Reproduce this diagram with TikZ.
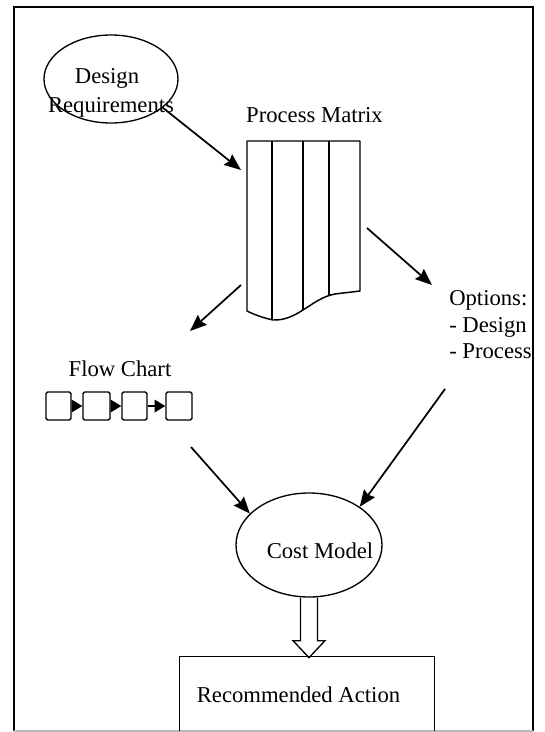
\documentclass[tikz,border=0pt]{standalone}
\usepackage{fontspec}
\setmainfont{Liberation Serif}
\usetikzlibrary{arrows.meta,calc,shapes.geometric}

\tikzset{
  lbl/.style={inner sep=0pt, anchor=base, font=\fontsize{17pt}{20pt}\selectfont},
  lbll/.style={lbl, anchor=base west},
  oval/.style={ellipse, draw, line width=1pt, inner sep=0pt},
  conn/.style={line width=1.3pt, -{Stealth[length=12.5pt,width=10pt,inset=1.5pt]}},
  fbox/.style={draw, line width=1.1pt, rounded corners=1.2pt, inner sep=0pt,
               minimum height=21pt},
  flink/.style={line width=1pt, -{Triangle[length=8pt,width=9.5pt]}},
}

\begin{document}
\begin{tikzpicture}[x=0.75pt, y=-0.75pt]
  \useasboundingbox (0,0) rectangle (544,732);

  % outer frame
  \draw[line width=1.6pt] (14,731) -- (14,7) -- (533,7) -- (533,731);
  \draw[gray!55, line width=1pt] (14,731) -- (533,731);

  % design requirements
  \node[oval, minimum width=100.5pt, minimum height=66pt] (dr) at (111,79) {};
  \node[lbl] (drA) at (107,83) {Design};
  \node[lbl] (drB) at (111,112) {Requirements};

  % process matrix
  \node[lbl] (pmt) at (314.5,122) {Process Matrix};
  \def\pmoutline{(247,141) -- (360,141) -- (360,291) -- (335,294)
     .. controls (312,298) and (298,321) .. (273,320)
     .. controls (264,318) and (255,315) .. (247,311) -- cycle}
  \begin{scope}
    \clip \pmoutline;
    \foreach \xx in {272,303,329}
      \draw[line width=1.1pt] (\xx,141) -- (\xx,330);
  \end{scope}
  \draw[line width=1.1pt, line join=round] \pmoutline;
  \node[inner sep=0pt, minimum width=84.75pt, minimum height=134.25pt] (pm) at (303.5,230.5) {};
  \coordinate (pmin) at (241,170);
  \coordinate (pmright) at (367,228);
  \coordinate (pmleft) at (241,285);

  % options
  \node[lbll] (op1) at (449,305) {Options:};
  \node[lbll] (op2) at (449,332) {- Design};
  \node[lbll] (op3) at (449,358) {- Process};
  \coordinate (opin) at (432,285);
  \coordinate (opout) at (445,389);

  % flow chart
  \node[lbl] (fc) at (120,376) {Flow Chart};
  \coordinate (fcin) at (190,331);
  \node[fbox, minimum width=18.75pt] (b1) at (58.5,406) {};
  \node[fbox, minimum width=20.25pt] (b2) at (96.5,406) {};
  \node[fbox, minimum width=18.75pt] (b3) at (134.5,406) {};
  \node[fbox, minimum width=19.5pt]  (b4) at (179,406) {};
  \draw[flink] (b1) -- (b2);
  \draw[flink] (b2) -- (b3);
  \draw[flink] (b3) -- (b4);
  \coordinate (fcout) at (191,447);

  % cost model
  \node[oval, minimum width=109.5pt, minimum height=78pt] (cm) at (309,545) {};
  \node[lbl] (cmt) at (320,558) {Cost Model};

  % recommended action
  \node[inner sep=0pt, minimum width=190.5pt, minimum height=55.5pt] (ra) at (307,694) {};
  \draw[line width=1.1pt] (ra.south west) -- (ra.north west) -- (ra.north east) -- (ra.south east);
  \node[lbl] (rat) at (298.5,702) {Recommended Action};

  % connectors
  \draw[conn] (dr.-29) -- (pmin);
  \draw[conn] (pmright) -- (opin);
  \draw[conn] (pmleft) -- (fcin);
  \draw[conn] (fcout) -- (cm.152);
  \draw[conn] (opout) -- (cm.37);

  % hollow arrow from cost model down to the action box
  \draw[line width=1pt, line join=miter] (cm.south) ++(-8.5,0) -- ++(0,43) -- ++(-7.5,0)
     -- ++(16,17) -- ++(16,-17) -- ++(-7.5,0) -- ++(0,-43);
\end{tikzpicture}
\end{document}
